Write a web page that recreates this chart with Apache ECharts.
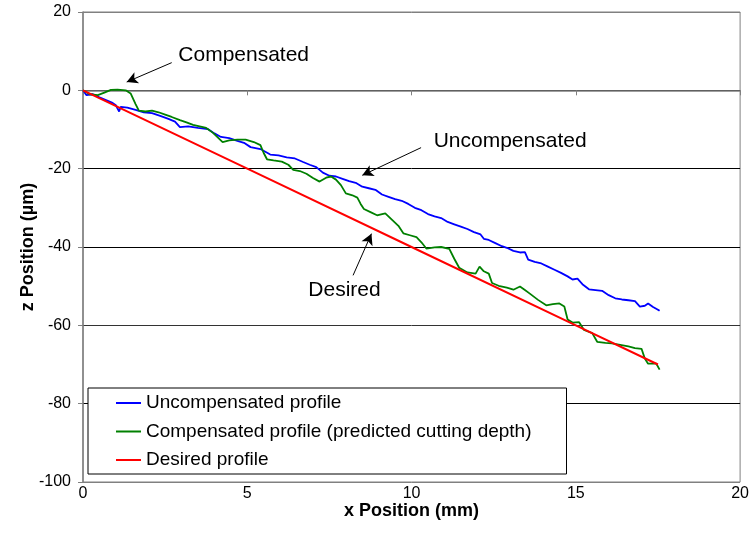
<!DOCTYPE html>
<html>
<head>
<meta charset="utf-8">
<script src="https://cdn.jsdelivr.net/npm/echarts@6/dist/echarts.min.js"></script>
<style>
  html, body { margin: 0; padding: 0; background: #fff; }
  #main { width: 752px; height: 552px; }
</style>
</head>
<body>
<div id="main"></div>
<script>
// values
var uncompX = [0, 0.1, 0.3, 0.5, 0.7, 0.9, 1.0, 1.1, 1.15, 1.35, 1.6, 1.85, 2.1, 2.35, 2.6, 2.8, 2.95, 3.2, 3.5, 3.8, 4.0, 4.2, 4.45, 4.7, 4.9, 5.1, 5.4, 5.7, 5.95, 6.2, 6.45, 6.7, 6.9, 7.1, 7.3, 7.5, 7.7, 7.9, 8.1, 8.3, 8.5, 8.7, 8.9, 9.1, 9.3, 9.5, 9.7, 9.9, 10.1, 10.3, 10.5, 10.7, 10.9, 11.1, 11.3, 11.5, 11.7, 11.9, 12.1, 12.2, 12.35, 12.55, 12.75, 12.9, 13.1, 13.3, 13.45, 13.55, 13.75, 13.95, 14.15, 14.35, 14.55, 14.75, 14.9, 15.05, 15.2, 15.4, 15.6, 15.8, 16.0, 16.2, 16.4, 16.6, 16.8, 16.95, 17.1, 17.2, 17.35, 17.5, 17.55];
var uncompZ = [0, -1.2, -1.0, -1.8, -2.5, -3.2, -3.8, -5.4, -4.2, -4.4, -5.0, -5.6, -5.8, -6.5, -7.3, -8.0, -9.4, -9.2, -9.6, -9.9, -11.0, -11.9, -12.2, -12.9, -13.4, -14.5, -15.0, -16.4, -16.6, -17.1, -17.4, -18.3, -19.0, -19.6, -21.0, -21.8, -22.0, -22.6, -23.2, -23.6, -24.6, -25.0, -25.4, -26.6, -27.2, -27.8, -28.2, -29.0, -30.0, -30.6, -31.6, -32.2, -32.6, -33.6, -34.2, -34.8, -35.4, -36.2, -36.8, -37.9, -38.2, -39.0, -39.8, -40.2, -41.0, -41.4, -41.3, -43.2, -43.8, -44.2, -45.0, -45.8, -46.6, -47.5, -48.3, -48.1, -49.5, -50.8, -51.0, -51.2, -52.3, -53.1, -53.4, -53.6, -53.8, -55.2, -55.0, -54.4, -55.3, -56.0, -56.3];

var compX = [0, 0.2, 0.45, 0.65, 0.85, 1.05, 1.3, 1.45, 1.6, 1.7, 1.9, 2.1, 2.3, 2.5, 2.7, 2.95, 3.15, 3.35, 3.55, 3.75, 3.95, 4.1, 4.25, 4.45, 4.7, 4.95, 5.2, 5.4, 5.5, 5.6, 5.8, 6.05, 6.25, 6.4, 6.6, 6.8, 7.0, 7.2, 7.4, 7.55, 7.7, 7.85, 8.0, 8.2, 8.35, 8.45, 8.55, 8.75, 8.95, 9.2, 9.4, 9.6, 9.75, 9.95, 10.15, 10.3, 10.45, 10.7, 10.9, 11.15, 11.3, 11.45, 11.7, 11.95, 12.07, 12.2, 12.35, 12.45, 12.65, 12.9, 13.1, 13.3, 13.45, 13.6, 13.85, 14.1, 14.3, 14.5, 14.65, 14.75, 14.9, 15.1, 15.25, 15.5, 15.65, 15.9, 16.1, 16.35, 16.6, 16.8, 17.0, 17.1, 17.2, 17.45, 17.55];
var compZ = [0, -1.0, -1.2, -0.6, 0.1, 0.2, 0.0, -0.8, -3.5, -5.2, -5.4, -5.2, -5.6, -6.2, -6.8, -7.6, -8.2, -8.8, -9.2, -9.6, -10.8, -12.0, -13.2, -12.8, -12.6, -12.6, -13.2, -14.0, -16.0, -17.6, -17.9, -18.2, -19.0, -20.3, -20.6, -21.3, -22.4, -23.3, -22.3, -22.0, -22.8, -24.2, -26.3, -26.8, -27.4, -29.0, -30.3, -31.1, -31.9, -31.4, -33.0, -34.6, -36.5, -37.0, -37.5, -38.8, -40.4, -40.1, -40.0, -40.5, -43.0, -45.3, -46.5, -46.8, -45.0, -46.2, -46.8, -49.2, -49.9, -50.4, -50.9, -50.1, -51.0, -51.9, -53.5, -54.9, -54.6, -54.4, -55.2, -58.5, -59.3, -59.2, -61.2, -62.0, -64.2, -64.5, -64.6, -65.0, -65.4, -65.8, -66.0, -68.5, -69.8, -69.8, -71.3];

var desiredX = [0, 5, 10, 15, 17.5];
var desiredZ = [0, -20, -40, -60, -70];

// annotations: text position and arrow (from -> to), in data units
var noteText = ['Compensated', 'Uncompensated', 'Desired'];
var notePos = [[4.89, 8.9], [13.0, -13.0], [7.96, -51.1]];
var arrowFrom = [[2.70, 7.07], [10.29, -14.63], [8.22, -47.24]];
var arrowTo = [[1.33, 2.12], [8.50, -21.70], [8.78, -36.59]];

function zip(xs, ys) {
	var out = [];
	for (var i = 0; i < xs.length; i++) out.push([xs[i], ys[i]]);
	return out;
}

var arrowLines = [];
for (var i = 0; i < arrowFrom.length; i++) {
	arrowLines.push([{ coord: arrowFrom[i] }, { coord: arrowTo[i] }]);
}
var notePoints = [];
for (var j = 0; j < noteText.length; j++) {
	notePoints.push({ name: noteText[j], coord: notePos[j] });
}

var myChart = echarts.init(document.getElementById('main'));
var fontName = '"Liberation Sans", Arial, sans-serif';

var option = {
	animation: false,
	textStyle: { fontFamily: fontName },
	grid: {
		left: 83, right: 11, top: 12, bottom: 70,
		show: true, borderColor: '#808080', borderWidth: 1
	},
	legend: {
		orient: 'vertical',
		left: 88, top: 388,
		padding: [5, 35, 4, 27],
		itemGap: 8.5,
		itemWidth: 25, itemHeight: 14,
		itemStyle: { opacity: 0 },
		backgroundColor: '#fff',
		borderColor: '#000', borderWidth: 1,
		borderRadius: 0,
		textStyle: { fontSize: 19, color: '#000', lineHeight: 20, fontFamily: fontName },
		data: ['Uncompensated profile', 'Compensated profile (predicted cutting depth)', 'Desired profile']
	},
	xAxis: {
		type: 'value', min: 0, max: 20, interval: 5,
		name: 'x Position (mm)', nameLocation: 'middle', nameGap: 20,
		nameMoveOverlap: false,
		nameTextStyle: { fontSize: 18, fontWeight: 'bold', color: '#000', verticalAlign: 'top' },
		axisLine: { show: true, lineStyle: { color: '#808080', width: 1.5 } },
		axisTick: { show: true, length: 5, lineStyle: { color: '#808080' } },
		axisLabel: { fontSize: 16, color: '#000', margin: 4 },
		splitLine: { show: false }
	},
	yAxis: {
		type: 'value', min: -100, max: 20, interval: 20,
		name: 'z Position (\u00b5m)', nameLocation: 'middle', nameGap: 46,
		nameMoveOverlap: false,
		nameTextStyle: { fontSize: 18, fontWeight: 'bold', color: '#000', verticalAlign: 'bottom' },
		axisLine: { show: true, lineStyle: { color: '#808080', width: 1.5 } },
		axisTick: { show: true, length: 5, lineStyle: { color: '#808080' } },
		axisLabel: { fontSize: 16, color: '#000', margin: 12 },
		splitLine: { show: true, lineStyle: { color: ['#808080', '#000', '#333', '#000', '#000', '#000', '#808080'], width: 1 } }
	},
	series: [
		{
			name: 'Uncompensated profile',
			type: 'line',
			symbol: 'none',
			color: '#0000ff',
			lineStyle: { width: 1.8 },
			data: zip(uncompX, uncompZ)
		},
		{
			name: 'Compensated profile (predicted cutting depth)',
			type: 'line',
			symbol: 'none',
			color: '#008000',
			lineStyle: { width: 1.8 },
			data: zip(compX, compZ)
		},
		{
			name: 'Desired profile',
			type: 'line',
			symbol: 'none',
			color: '#ff0000',
			lineStyle: { width: 2 },
			data: zip(desiredX, desiredZ),
			markLine: {
				silent: true,
				symbol: ['none', 'arrow'],
				symbolSize: [9, 11],
				lineStyle: { color: '#000', width: 1, type: 'solid' },
				label: { show: false },
				emphasis: { disabled: true },
				data: arrowLines
			},
			markPoint: {
				silent: true,
				symbol: 'circle',
				symbolSize: 0,
				label: { show: true, position: 'inside', formatter: '{b}', fontSize: 21, color: '#000', fontFamily: fontName },
				data: notePoints
			}
		}
	]
};

myChart.setOption(option);
</script>
</body>
</html>
